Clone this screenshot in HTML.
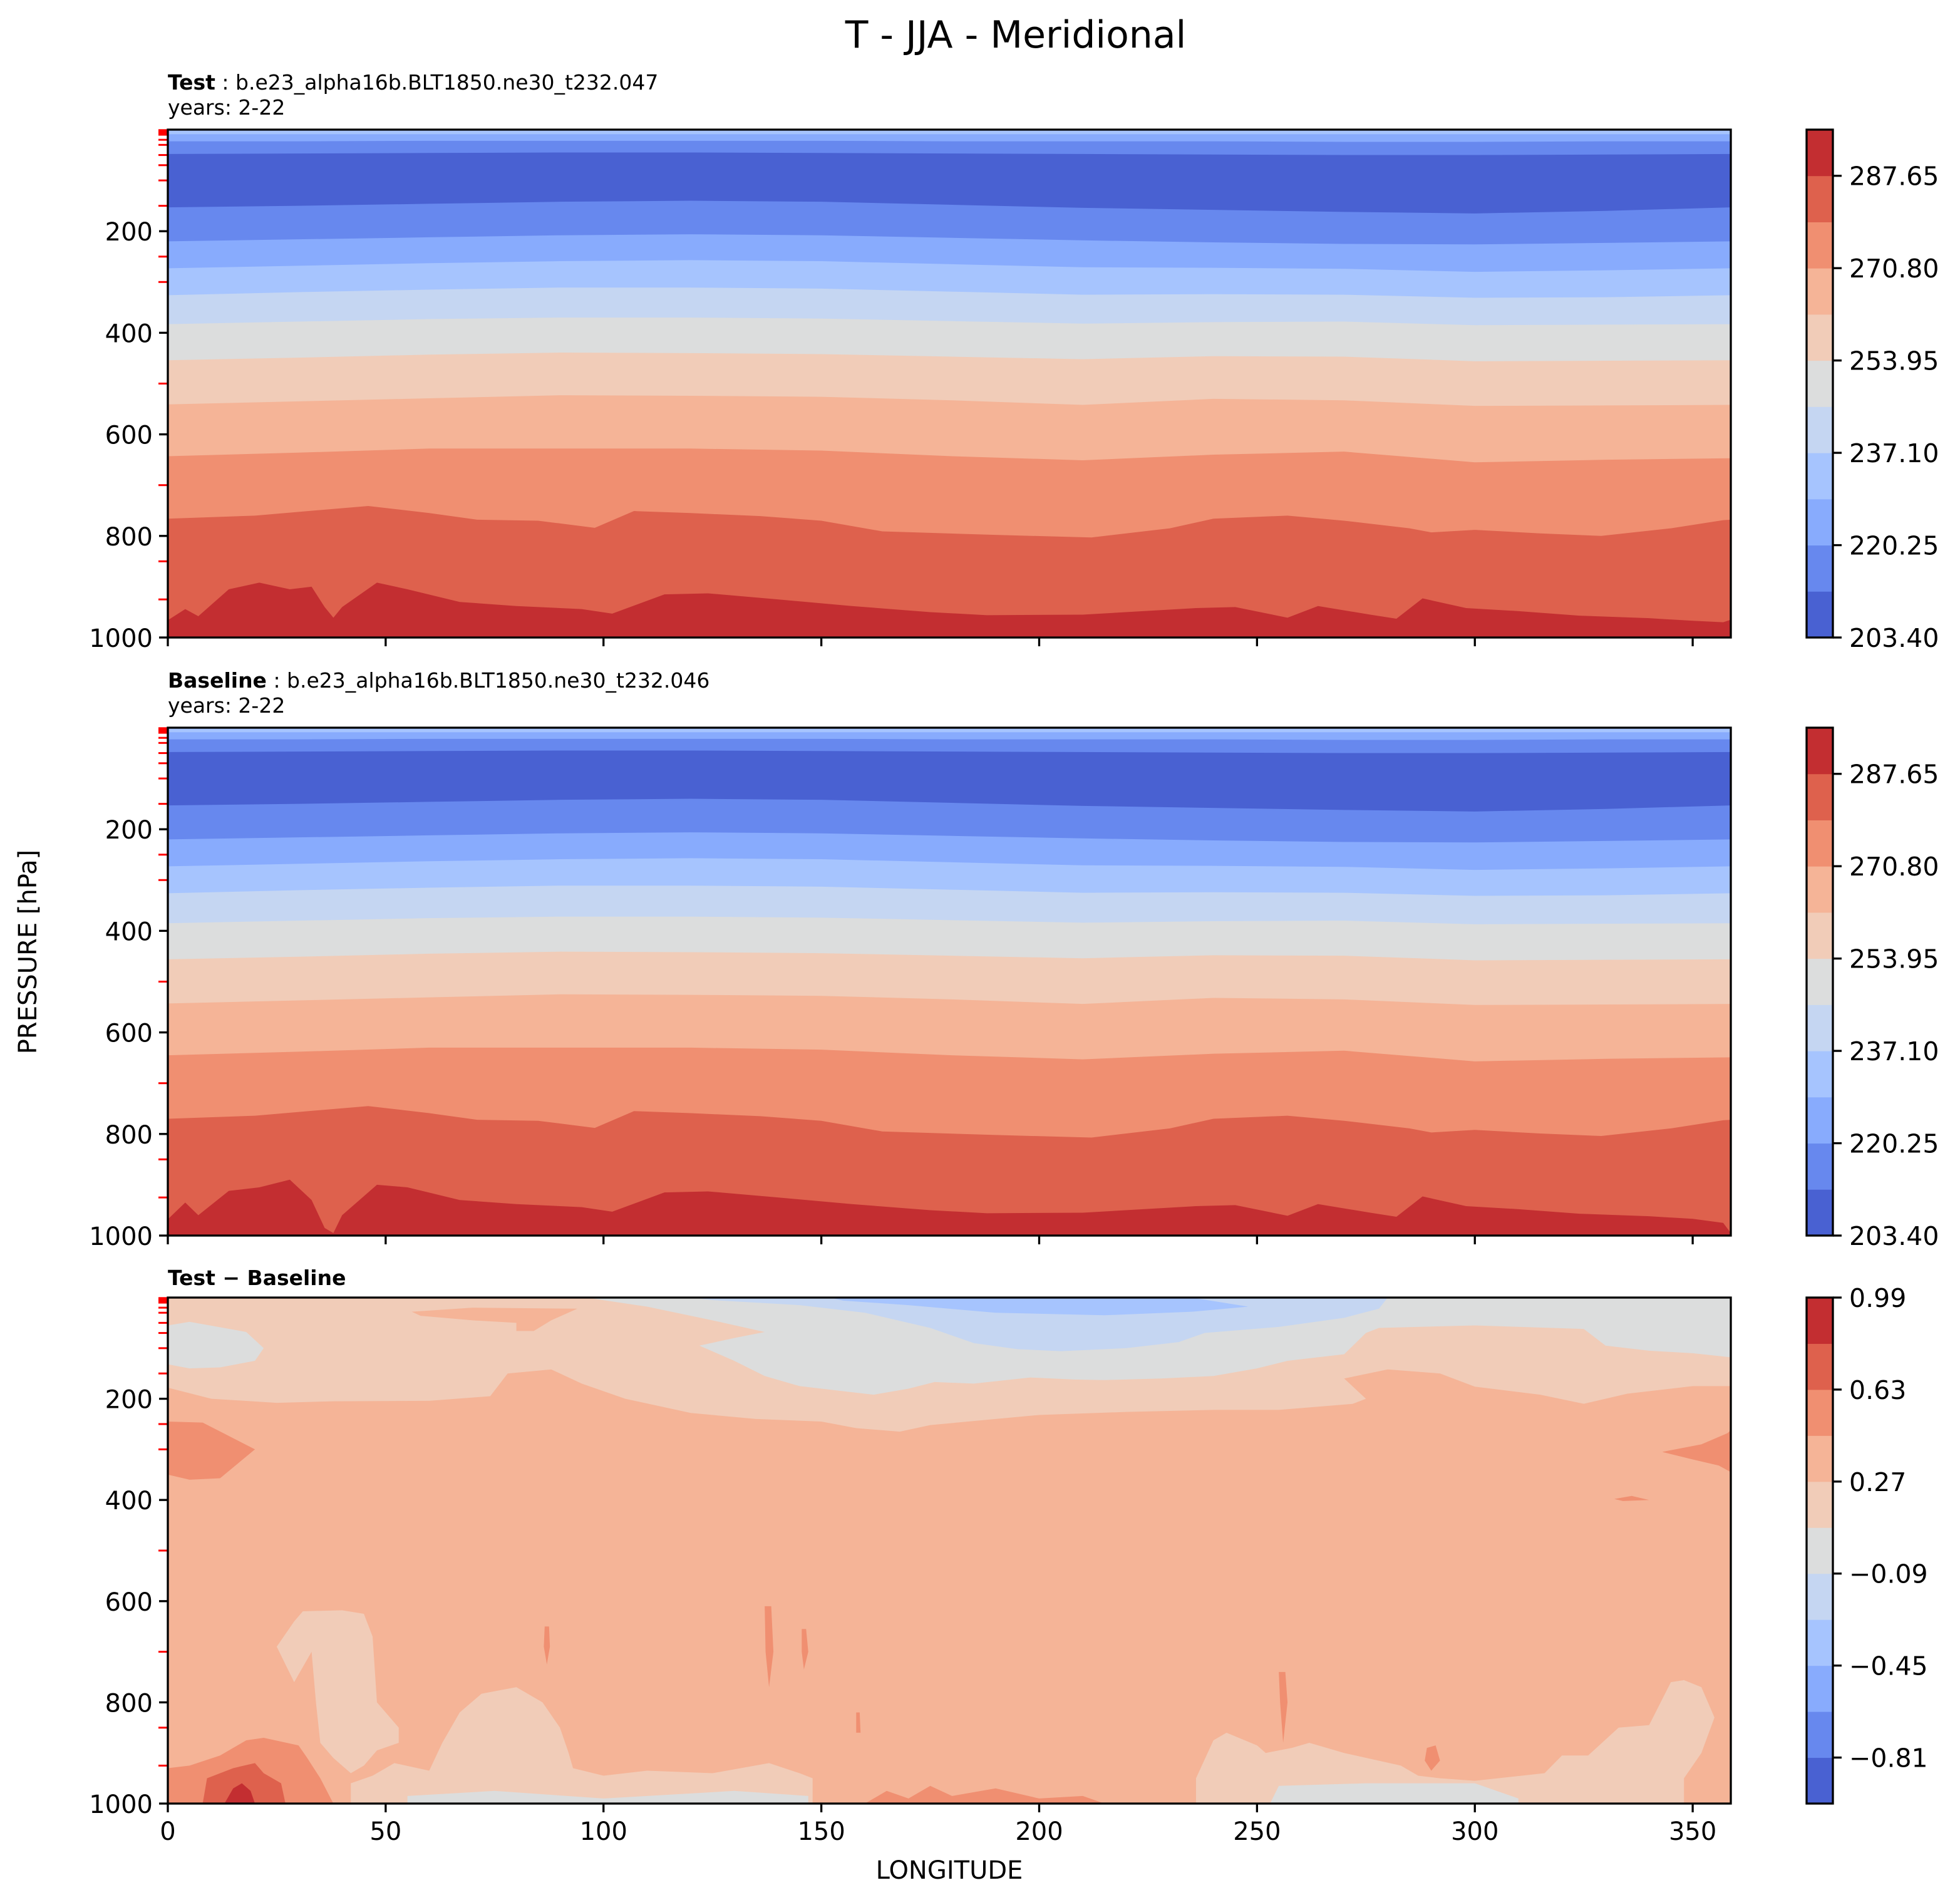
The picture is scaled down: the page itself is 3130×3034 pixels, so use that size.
<!DOCTYPE html>
<html><head><meta charset="utf-8"><style>
html,body{margin:0;padding:0;background:#fff;}
svg{display:block;font-family:"DejaVu Sans","Liberation Sans",sans-serif;}
</style></head><body>
<svg id="fig" width="3130" height="3034" viewBox="0 0 3130 3034" xmlns="http://www.w3.org/2000/svg">
<rect width="3130" height="3034" fill="#fff"/>
<text x="1622" y="76" font-size="60" text-anchor="middle">T - JJA - Meridional</text>
<text x="268" y="143" font-size="33"><tspan font-weight="bold">Test</tspan> : b.e23_alpha16b.BLT1850.ne30_t232.047</text>
<text x="268" y="183" font-size="33">years: 2-22</text>
<text x="268" y="1098" font-size="33"><tspan font-weight="bold">Baseline</tspan> : b.e23_alpha16b.BLT1850.ne30_t232.046</text>
<text x="268" y="1138" font-size="33">years: 2-22</text>
<text x="268" y="2052" font-size="33" font-weight="bold">Test − Baseline</text>
<text x="58" y="1520" font-size="40" text-anchor="middle" transform="rotate(-90 58 1520)">PRESSURE [hPa]</text>
<text x="1516" y="3000" font-size="40" text-anchor="middle">LONGITUDE</text>
</svg>
<script>
// ---------- data ----------
const lonS=[0,30,60,90,120,150,180,210,240,270,300,330,360];
const tB0=[9,9,9,9,9,9,9,9,9,9,9,9,9];
const tB1=[23,23,22,22,22,22,23,23,23,24,24,23,23];
const tB2=[48,47,46,45,45,46,47,48,49,50,50,49,48];
const tB3=[153,150,146,142,140,142,148,154,158,162,165,160,153];
const tB4=[220,216,212,208,206,208,213,218,222,225,226,223,220];
const tB5=[273,268,263,259,257,259,265,271,272,274,280,277,273];
const tB6=[326,320,315,311,311,313,319,325,324,325,331,330,326];
const tB7=[383,378,373,370,370,372,377,382,379,378,385,384,383];
const tB8=[454,449,443,439,440,442,447,452,446,447,456,455,454];
const tB9=[541,535,529,523,524,526,533,542,530,533,544,543,542];
const tB10=[643,636,628,628,628,632,643,651,640,634,655,650,647];
const lonR9=[0,20,46,60,71,85,98,107,120,136,150,164,190,212,230,240,257,270,285,290,300,315,329,345,357,360];
const tB11=[766,760,741,755,768,770,784,751,755,761,770,791,798,803,785,766,760,770,785,793,788,795,800,785,769,768];
const lonR10=[0,4,7,14,21,28,33,36,38,40,48,55,67,80,95,102,114,124,140,157,175,188,210,236,245,257,264,276,282,288,298,310,324,340,350,357,360];
const testB12=[966,944,958,905,892,905,900,940,961,940,892,905,930,938,944,953,915,913,925,938,950,956,955,942,940,961,938,955,963,923,942,948,957,962,967,970,965];
const baseB12=[968,935,960,912,905,890,930,985,995,960,900,905,930,938,944,953,915,913,925,938,950,956,955,942,940,961,938,955,963,923,942,948,957,962,967,975,995];
const colors=['#4961d2','#6788ee','#88abfd','#a6c4fe','#c5d6f2','#dcdddd','#f1ccb8','#f5b497','#f08f71','#de614d','#c32e31'];
const belowIdx=[2,1,0,1,2,3,4,5,6,7,8,9,10];
const tempTicks=['203.40','220.25','237.10','253.95','270.80','287.65'];
const diffTicks=['−0.81','−0.45','−0.09','0.27','0.63','0.99'];
const xTicks=[0,50,100,150,200,250,300,350];
const yTicks=[200,400,600,800,1000];
const redLevels=[1,2,3,4,5,7,10,20,30,50,70,100,150,250,300,500,700,850,925];
const dPeachTop=[[0,0],[360,0],[360,175],[350,175],[335,190],[325,210],[315,192],[300,176],[292,150],[280,142],[270,160],[275,200],[272,210],[255,222],[240,222],[220,226],[200,232],[190,240],[175,252],[168,265],[158,258],[150,245],[135,240],[120,228],[105,200],[95,170],[88,142],[78,150],[74,195],[60,204],[38,205],[25,208],[10,200],[0,178]];
const dGreyLeft=[[0,55],[5,48],[18,68],[22,100],[20,125],[12,138],[5,140],[0,132]];
const dGreyMid=[[96,0],[360,0],[360,118],[350,110],[340,105],[330,95],[325,62],[300,55],[278,60],[275,70],[270,112],[257,125],[250,140],[240,155],[228,160],[215,163],[208,162],[198,158],[185,170],[176,167],[170,180],[162,192],[155,185],[145,175],[137,155],[130,125],[122,95],[130,80],[137,68],[125,45],[110,18]];
const dBlueLight=[[120,0],[280,0],[278,22],[270,40],[255,58],[238,70],[232,88],[220,100],[205,106],[195,102],[185,90],[175,60],[160,30],[145,15],[125,5]];
const dBlueMid=[[152,0],[235,0],[248,18],[235,28],[215,35],[190,30],[170,15],[155,6]];
const dSalmonTop=[[56,28],[70,20],[94,22],[88,45],[84,66],[80,66],[80,50],[70,45],[58,36]];
const dSalmonLeft=[[0,245],[8,247],[20,300],[12,357],[5,360],[0,350]];
const dSalmonRight=[[343,305],[352,290],[358,268],[360,262],[360,345],[356,332],[350,320]];
const dSalmonDot=[[332,398],[336,392],[340,400],[334,402]];
const dPeachCol=[[29,640],[31,620],[40,618],[45,625],[47,670],[48,800],[53,850],[53,880],[48,895],[45,925],[42,940],[38,910],[35,880],[34,800],[33,700],[29,760],[25,690]];
const dPeachBotMid=[[42,1000],[42,960],[47,945],[52,920],[60,935],[63,880],[67,820],[72,783],[80,770],[86,800],[90,850],[92,900],[93,930],[100,945],[110,935],[125,940],[138,920],[145,940],[148,950],[148,1000]];
const dPeachBotRight=[[236,1000],[236,950],[240,875],[243,860],[250,885],[252,900],[258,890],[262,880],[270,900],[283,925],[287,945],[292,950],[300,955],[316,940],[320,905],[326,905],[333,850],[340,845],[345,760],[348,756],[352,770],[355,830],[352,900],[348,950],[348,1000]];
const dGreyBotMid=[[55,1000],[55,985],[75,975],[100,990],[130,975],[147,985],[147,1000]];
const dGreyBotRight=[[253,1000],[255,965],[275,960],[300,960],[310,990],[310,1000]];
const dSalmonBotLeft=[[0,1000],[0,930],[5,925],[12,905],[18,875],[22,870],[30,885],[32,910],[35,950],[38,1000]];
const dRedSalmonBotLeft=[[8,1000],[9,950],[15,930],[20,920],[22,940],[26,960],[27,1000]];
const dRedBotLeft=[[13,1000],[15,970],[17,960],[19,975],[20,1000]];
const dSalmonBotMid=[[160,1000],[165,975],[170,990],[175,965],[180,985],[190,970],[200,990],[210,985],[215,1000]];
const dStreak1=[[86.5,650],[87.5,650],[87.7,690],[87,725],[86.3,690]];
const dStreak2=[[137,610],[138.5,610],[139,700],[138,770],[137.2,700]];
const dStreak3=[[145.5,655],[146.5,655],[147,700],[146,735],[145.5,700]];
const dStreak4=[[158,820],[158.8,820],[159,860],[158,860]];
const dStreak5=[[255,740],[256.5,740],[257,800],[256,880],[255.3,800]];
const dStreak6=[[289,890],[291,885],[292,915],[290,935],[288.5,915]];
const diffPolys=[[dPeachTop,6,'peach-top'],[dGreyLeft,5,'grey-left'],[dGreyMid,5,'grey-mid'],[dBlueLight,4,'blue-light'],[dBlueMid,3,'blue-mid'],[dSalmonTop,7,'salmon-top'],[dSalmonLeft,8,'salmon-left'],[dSalmonRight,8,'salmon-right'],[dSalmonDot,8,'salmon-dot'],[dPeachCol,6,'peach-column'],[dPeachBotMid,6,'peach-bottom-mid'],[dPeachBotRight,6,'peach-bottom-right'],[dGreyBotMid,5,'grey-bottom-mid'],[dGreyBotRight,5,'grey-bottom-right'],[dSalmonBotLeft,8,'salmon-bottom-left'],[dRedSalmonBotLeft,9,'redsalmon-bottom-left'],[dRedBotLeft,10,'red-bottom-left'],[dSalmonBotMid,8,'salmon-bottom-mid'],[dStreak1,8,'streak'],[dStreak2,8,'streak'],[dStreak3,8,'streak'],[dStreak4,8,'streak'],[dStreak5,8,'streak'],[dStreak6,8,'streak']];

// ---------- layout ----------
const NS='http://www.w3.org/2000/svg';
const svg=document.getElementById('fig');
const AX0=268, AX1=2764, LONMAX=358.75;
const CB0=2885, CB1=2927;
const panels=[{top:207,bot:1018,name:'test'},{top:1162,bot:1973,name:'baseline'},{top:2072,bot:2880,name:'diff'}];
const X=lon=>AX0+Math.min(lon,LONMAX)*(AX1-AX0)/LONMAX;
function mk(tag,attrs,parent){const e=document.createElementNS(NS,tag);for(const k in attrs)e.setAttribute(k,attrs[k]);(parent||svg).appendChild(e);return e;}

function drawBoundaryFill(g,P,lons,vals,color){
  const Y=p=>P.top+p/1000*(P.bot-P.top);
  let d='M'+X(lons[0])+','+Y(vals[0]);
  for(let i=1;i<lons.length;i++)d+='L'+X(lons[i])+','+Y(vals[i]);
  d+='L'+X(lons[lons.length-1])+','+P.bot+'L'+X(lons[0])+','+P.bot+'Z';
  const e=mk('path',{d:d,fill:color},g);
  
  
}
function drawPoly(g,P,pts,color,name){
  const Y=p=>P.top+p/1000*(P.bot-P.top);
  const d='M'+pts.map(q=>X(q[0])+','+Y(q[1])).join('L')+'Z';
  const e=mk('path',{d:d,fill:color},g);
  
  
}

function drawAxes(P,showXLabels){
  const Y=p=>P.top+p/1000*(P.bot-P.top);
  const g=mk('g',{});
  
  
  redLevels.forEach(p=>{const t=mk('line',{x1:AX0-15,x2:AX0,y1:Y(p),y2:Y(p),stroke:'#ff0000','stroke-width':3},g);
    
    });
  yTicks.forEach(p=>{const t=mk('line',{x1:AX0-14,x2:AX0,y1:Y(p),y2:Y(p),stroke:'#000','stroke-width':3.3},g);
    
    
    const l=mk('text',{x:AX0-24,y:Y(p)+15,'font-size':40,'text-anchor':'end'},g);l.textContent=p;
    
    });
  xTicks.forEach(v=>{const t=mk('line',{x1:X(v),x2:X(v),y1:P.bot,y2:P.bot+14,stroke:'#000','stroke-width':3.3},g);
    
    
    if(showXLabels){const l=mk('text',{x:X(v),y:P.bot+58,'font-size':40,'text-anchor':'middle'},g);l.textContent=v;
      
      }});
  const r=mk('rect',{x:AX0,y:P.top,width:AX1-AX0,height:P.bot-P.top,fill:'none',stroke:'#000','stroke-width':3.3},g);
  
  
}

function drawColorbar(P,labels){
  const g=mk('g',{});
  
  
  const H=P.bot-P.top, bh=H/11;
  for(let i=0;i<11;i++){const r=mk('rect',{x:CB0,y:P.bot-(i+1)*bh,width:CB1-CB0,height:bh+0.5,fill:colors[i]},g);
    
    }
  mk('rect',{x:CB0,y:P.top,width:CB1-CB0,height:H,fill:'none',stroke:'#000','stroke-width':3.3},g);
  labels.forEach((lab,i)=>{
    const band=(P.name==='diff')?(1+2*i):(2*i);
    const y=P.bot-band*bh;
    const t=mk('line',{x1:CB1,x2:CB1+14,y1:y,y2:y,stroke:'#000','stroke-width':3.3},g);
    
    
    const l=mk('text',{x:CB1+26,y:y+15,'font-size':41},g);l.textContent=lab;
    
    
  });
}

const tBounds=[tB0,tB1,tB2,tB3,tB4,tB5,tB6,tB7,tB8,tB9,tB10];
[[panels[0],testB12],[panels[1],baseB12]].forEach(([P,red],k)=>{
  const g=mk('g',{});
  
  
  const bg=mk('rect',{x:AX0,y:P.top,width:AX1-AX0,height:P.bot-P.top,fill:colors[3]},g);
  
  
  tBounds.forEach((b,i)=>{
    const vals=k===1?b.map(v=>v+(i>=7?2:0)):b;
    drawBoundaryFill(g,P,lonS,vals,colors[belowIdx[i]]);
  });
  drawBoundaryFill(g,P,lonR9,tB11.map(v=>v+(k===1?4:0)),colors[9]);
  drawBoundaryFill(g,P,lonR10,red,colors[10]);
  drawAxes(P,false);
  drawColorbar(P,tempTicks);
});
(function(){
  const P=panels[2];
  const g=mk('g',{});
  
  
  const bg=mk('rect',{x:AX0,y:P.top,width:AX1-AX0,height:P.bot-P.top,fill:colors[7]},g);
  
  
  diffPolys.forEach(([pts,ci,name])=>drawPoly(g,P,pts,colors[ci],name));
  drawAxes(P,true);
  drawColorbar(P,diffTicks);
})();
</script>
</body></html>
